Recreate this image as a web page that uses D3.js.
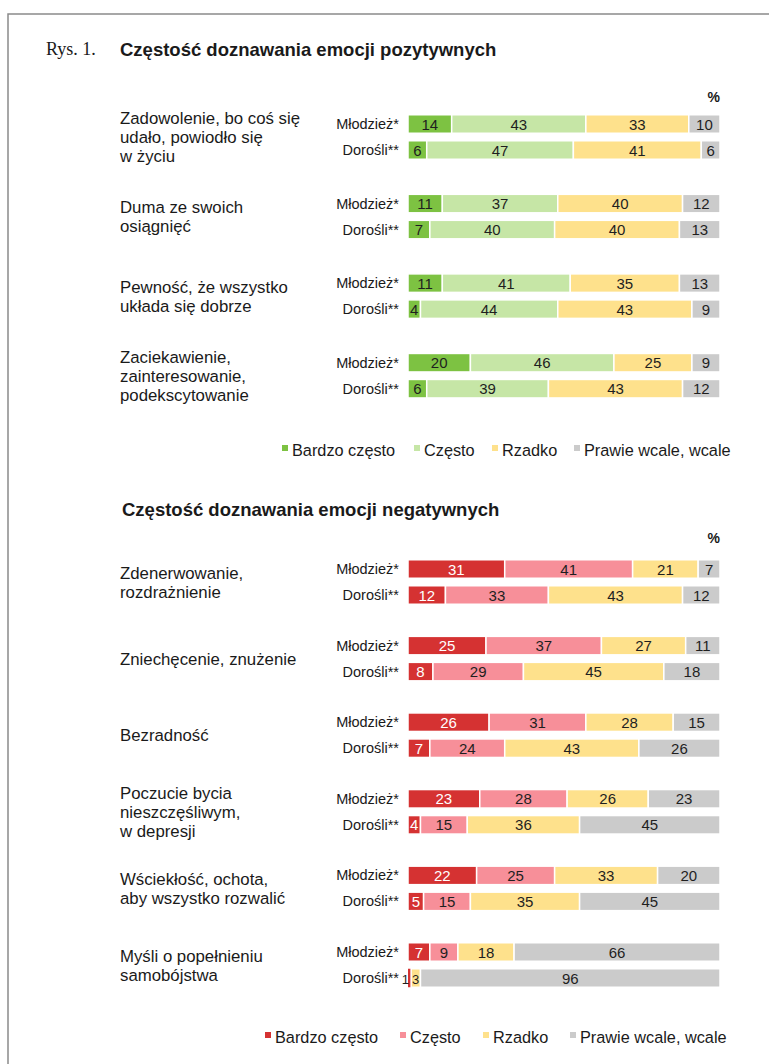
<!DOCTYPE html>
<html>
<head>
<meta charset="utf-8">
<script src="https://cdn.jsdelivr.net/npm/d3@7"></script>
<style>
  body { margin: 0; background: #fff; }
  svg { display: block; font-family: "Liberation Sans", Arial, sans-serif; }
</style>
</head>
<body>
<div id="chart"></div>
<script>
// categories
const freqLabels = ["Bardzo często", "Często", "Rzadko", "Prawie wcale, wcale"];
const groups = ["Młodzież*", "Dorośli**"];

// positive emotions
const posItems = [
  ["Zadowolenie, bo coś się", "udało, powiodło się", "w życiu"],
  ["Duma ze swoich", "osiągnięć"],
  ["Pewność, że wszystko", "układa się dobrze"],
  ["Zaciekawienie,", "zainteresowanie,", "podekscytowanie"]
];
const posYouth = [[14, 43, 33, 10], [11, 37, 40, 12], [11, 41, 35, 13], [20, 46, 25, 9]];
const posAdults = [[6, 47, 41, 6], [7, 40, 40, 13], [4, 44, 43, 9], [6, 39, 43, 12]];

// negative emotions
const negItems = [
  ["Zdenerwowanie,", "rozdrażnienie"],
  ["Zniechęcenie, znużenie"],
  ["Bezradność"],
  ["Poczucie bycia", "nieszczęśliwym,", "w depresji"],
  ["Wściekłość, ochota,", "aby wszystko rozwalić"],
  ["Myśli o popełnieniu", "samobójstwa"]
];
const negYouth = [[31, 41, 21, 7], [25, 37, 27, 11], [26, 31, 28, 15], [23, 28, 26, 23], [22, 25, 33, 20], [7, 9, 18, 66]];
const negAdults = [[12, 33, 43, 12], [8, 29, 45, 18], [7, 24, 43, 26], [4, 15, 36, 45], [5, 15, 35, 45], [1, 0, 3, 96]];

const posColors = ["#7dc242", "#c6e6a6", "#fee18c", "#cbcbcb"];
const negColors = ["#d53232", "#f78f99", "#fee18c", "#cbcbcb"];

const width = 769, height = 1064;
const svg = d3.select("#chart").append("svg")
  .attr("width", width).attr("height", height);

// frame
svg.append("rect")
  .attr("x", 8).attr("y", 14).attr("width", 800).attr("height", 1100)
  .attr("fill", "none").attr("stroke", "#8a8a8a").attr("stroke-width", 1.5);

svg.append("text").attr("x", 46).attr("y", 55)
  .style("font-family", "'Liberation Serif', serif").style("font-size", "18px")
  .attr("fill", "#1a1a1a").text("Rys. 1.");

const x = d3.scaleLinear().domain([0, 100]).range([408, 720]);
const barH = 18.5;
const rowGap = 26;

function section(opts) {
  const { title, titleY, items, youth, adults, colors, y0, y1, pctY, legendY, legendX } = opts;

  svg.append("text").attr("x", opts.titleX).attr("y", titleY)
    .style("font-size", "18.5px").style("font-weight", "bold")
    .attr("fill", "#1a1a1a").text(title);

  svg.append("text").attr("x", 720).attr("y", pctY)
    .attr("text-anchor", "end").style("font-size", "14px").style("font-weight", "bold")
    .attr("fill", "#1a1a1a").text("%");

  const yG = d3.scalePoint().domain(d3.range(items.length)).range([y0, y1]);

  items.forEach((lines, i) => {
    const cy = yG(i) + rowGap / 2;
    const lh = 19;
    const t = svg.append("text").attr("x", 120).style("font-size", "16.8px").attr("fill", "#1a1a1a");
    lines.forEach((ln, k) => {
      t.append("tspan").attr("x", 120)
        .attr("y", cy + (k - (lines.length - 1) / 2) * lh + 6)
        .text(ln);
    });

    [youth[i], adults[i]].forEach((vals, g) => {
      const by = yG(i) + g * rowGap;
      svg.append("text").attr("x", 399).attr("y", by + 5)
        .attr("text-anchor", "end").style("font-size", "14.5px").attr("fill", "#1a1a1a")
        .text(groups[g]);

      let acc = 0;
      const segs = vals.map((v, j) => { const s = { v, j, x0: acc }; acc += v; return s; });
      const gBar = svg.append("g");
      gBar.selectAll("rect").data(segs).join("rect")
        .attr("x", d => x(d.x0))
        .attr("y", by - barH / 2)
        .attr("width", d => x(d.x0 + d.v) - x(d.x0))
        .attr("height", barH)
        .attr("fill", d => colors[d.j])
        .attr("stroke", "#fff").attr("stroke-width", d => d.v < 2 ? 0 : 1.5);

      // tiny segments get small labels pushed apart so they do not collide
      const tiny = segs.filter(d => d.v > 0 && d.v < 4).length > 1;
      gBar.selectAll("text").data(segs.filter(d => d.v > 0)).join("text")
        .attr("x", d => {
          if (tiny && d.v < 2) return x(d.x0) + 1;
          if (tiny && d.v < 4) return x(d.x0) + 1;
          return (x(d.x0) + x(d.x0 + d.v)) / 2;
        })
        .attr("y", by + 5.5)
        .attr("text-anchor", d => tiny && d.v < 2 ? "end" : (tiny && d.v < 4 ? "start" : "middle"))
        .style("font-size", d => tiny && d.v < 4 ? "13px" : "15px")
        .attr("fill", d => (colors === negColors && d.j === 0 && d.v >= 2) ? "#fff" : "#1f1f1f")
        .text(d => d.v);
    });
  });

  // legend
  const lg = svg.append("g");
  freqLabels.forEach((lab, j) => {
    lg.append("rect").attr("x", legendX[j]).attr("y", legendY - 5)
      .attr("width", 6).attr("height", 6).attr("fill", colors[j]);
    lg.append("text").attr("x", legendX[j] + 10).attr("y", legendY + 5.5)
      .style("font-size", "16.3px").attr("fill", "#1a1a1a").text(lab);
  });
}

section({
  title: "Częstość doznawania emocji pozytywnych", titleX: 120, titleY: 56,
  items: posItems, youth: posYouth, adults: posAdults, colors: posColors,
  y0: 124, y1: 362.7, pctY: 102, legendY: 450, legendX: [282, 414, 492, 574]
});

section({
  title: "Częstość doznawania emocji negatywnych", titleX: 122, titleY: 516,
  items: negItems, youth: negYouth, adults: negAdults, colors: negColors,
  y0: 569, y1: 952, pctY: 543, legendY: 1037, legendX: [265, 400, 483, 570]
});
</script>
</body>
</html>
